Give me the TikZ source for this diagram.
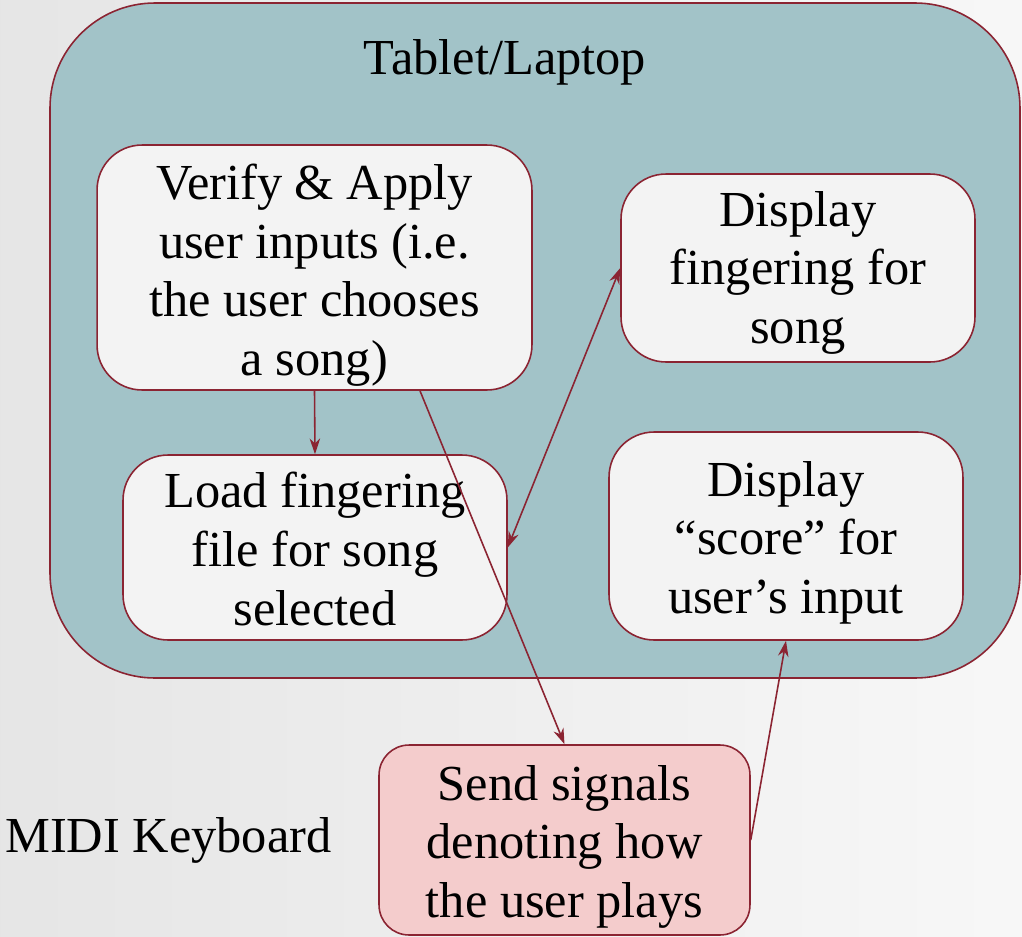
\documentclass[tikz,border=0pt]{standalone}
\usepackage{fontspec}
\setmainfont{Liberation Serif}
\usetikzlibrary{arrows.meta}
\definecolor{edgered}{HTML}{8B2432}
\definecolor{tealfill}{HTML}{A2C3C8}
\definecolor{boxfill}{HTML}{F3F3F3}
\definecolor{pinkfill}{HTML}{F4CCCC}
\newcommand\dropby[1]{\rule{0pt}{#1}}
\tikzset{
  step box/.style={draw=edgered, line width=0.9pt, fill=boxfill, rounded corners=0.9cm,
    align=center, inner sep=0pt, font=\fontsize{28.7}{33.5}\selectfont},
  link/.style={draw=edgered, line width=0.9pt, -{Stealth[length=9pt,width=6pt]}},
}
\begin{document}
\begin{tikzpicture}[x=0.02cm, y=-0.02cm]
\useasboundingbox (0,0) rectangle (1022,937);
\shade[left color=black!10, right color=black!3] (0,0) rectangle (1022,937);

% the laptop side
\draw[draw=edgered, line width=0.9pt, fill=tealfill, rounded corners=2.1cm] (50,3) rectangle (1020,678);
\node[font=\fontsize{28.7}{33.5}\selectfont] (laptop) at (505,62) {Tablet/Laptop};

\node[step box, minimum width=8.7cm, minimum height=4.9cm] (verify) at (314.5,267.5)
  {\dropby{29pt}Verify \& Apply\\user inputs (i.e.\\the user chooses\\a song)};
\node[step box, minimum width=7.68cm, minimum height=3.7cm] (load) at (315,547.5)
  {\dropby{22pt}Load fingering\\file for song\\selected};
\node[step box, minimum width=7.08cm, minimum height=3.76cm] (finger) at (798,268)
  {\dropby{25.5pt}Display\\fingering for\\song};
\node[step box, minimum width=7.08cm, minimum height=4.16cm] (score) at (786,536)
  {\dropby{27.7pt}Display\\“score” for\\user’s input};

% the keyboard side
\node[step box, fill=pinkfill, rounded corners=0.6cm, minimum width=7.42cm, minimum height=3.8cm] (send) at (564.5,840)
  {\dropby{27.7pt}Send signals\\denoting how\\the user plays};
\node[font=\fontsize{28.7}{33.5}\selectfont, anchor=west, inner sep=0pt] (midi) at (5,840) {MIDI Keyboard};

\draw[link] (verify.south) -- (load.north);
\draw[link, {Stealth[length=9pt,width=6pt]}-{Stealth[length=9pt,width=6pt]}] (load.east) -- (finger.west);
\draw[link] ([xshift=2.11cm]verify.south) -- (send.north);
\draw[link] (send.east) -- (score.south);
\end{tikzpicture}
\end{document}
